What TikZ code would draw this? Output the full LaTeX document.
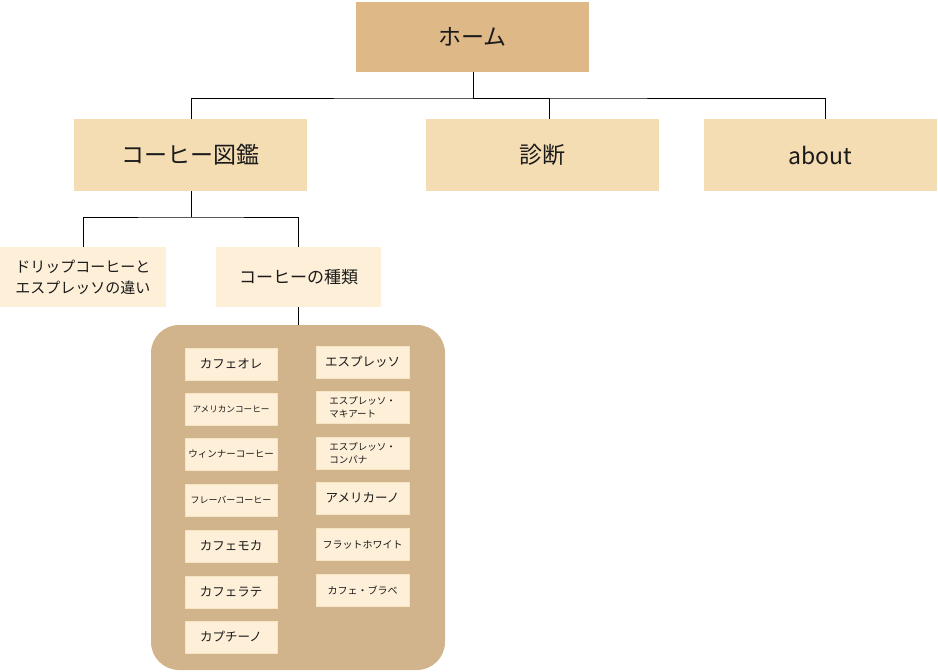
\documentclass[tikz,border=0pt]{standalone}
\usepackage{fontspec}
\setmainfont{Noto Sans CJK JP}
\definecolor{homec}{HTML}{DEB887}
\definecolor{lvtwo}{HTML}{F5DDB3}
\definecolor{lvthree}{HTML}{FDEFD8}
\definecolor{panelc}{HTML}{D2B48C}
\definecolor{txt}{HTML}{1A1A1A}
\newcommand{\fs}[1]{\fontsize{#1pt}{#1pt}\selectfont}
\begin{document}
\begin{tikzpicture}[x=1pt,y=-1pt,
  base/.style={rectangle, inner sep=0pt, outer sep=0pt, text=txt},
  homebox/.style={base, fill=homec, minimum width=233pt, minimum height=70pt, font=\fs{23}},
  topbox/.style={base, fill=lvtwo, minimum width=233pt, minimum height=72pt, font=\fs{23}},
  subbox/.style={base, fill=lvthree, minimum height=60pt},
  itembox/.style={base, fill=lvthree, draw=lvtwo!80, line width=0.6pt, minimum height=32pt},
  litem/.style={itembox, minimum width=92pt},
  ritem/.style={itembox, minimum width=93pt},
  conn/.style={draw=black, line width=0.9pt}
]
\useasboundingbox (0,0) rectangle (938,672);

\node[homebox] (home) at (472.5,37) {ホーム};
\node[topbox] (zukan) at (190.5,155) {コーヒー図鑑};
\node[topbox] (shindan) at (542.5,155) {診断};
\node[topbox] (about) at (820.5,155) {about};

\node[subbox, minimum width=166pt, align=left, font=\fontsize{15pt}{21pt}\selectfont] (drip) at (83,277) {ドリップコーヒーと\\エスプレッソの違い};
\node[subbox, minimum width=165pt, font=\fs{17}] (types) at (298.5,277) {コーヒーの種類};

\node[base, fill=panelc, rounded corners=28pt, minimum width=294pt, minimum height=345pt] (panel) at (298,497.5) {};

% left column
\node[litem, font=\fs{12.5}] (l1) at (231,364) {カフェオレ};
\node[litem, font=\fs{8.6}] (l2) at (231,409) {アメリカンコーヒー};
\node[litem, font=\fs{9.5}] (l3) at (231,454) {ウィンナーコーヒー};
\node[litem, font=\fs{9}] (l4) at (231,500) {フレーバーコーヒー};
\node[litem, font=\fs{12.5}] (l5) at (231,546) {カフェモカ};
\node[litem, font=\fs{12.5}] (l6) at (231,592) {カフェラテ};
\node[litem, font=\fs{12.5}] (l7) at (231,637) {カプチーノ};

% right column
\node[ritem, font=\fs{12.5}] (r1) at (362.5,362) {エスプレッソ};
\node[ritem, align=left, font=\fontsize{9.5pt}{12.5pt}\selectfont] (r2) at (362.5,407.5) {エスプレッソ・\\マキアート};
\node[ritem, align=left, font=\fontsize{9.5pt}{12.5pt}\selectfont] (r3) at (362.5,453) {エスプレッソ・\\コンパナ};
\node[ritem, font=\fs{12.5}] (r4) at (362.5,498) {アメリカーノ};
\node[ritem, font=\fs{10}] (r5) at (362.5,544.5) {フラットホワイト};
\node[ritem, font=\fs{10}] (r6) at (362.5,590.5) {カフェ・ブラベ};

% connectors
\coordinate (hj) at (473,98);
\coordinate (zj) at (191,217);
\draw[conn] ([xshift=0.5pt]home.south) -- (hj);
\draw[conn] ([xshift=0.5pt]zukan.north) |- (hj) -| ([xshift=4.5pt]about.north);
\draw[conn] (hj) -| ([xshift=6.5pt]shindan.north);
\draw[conn] ([xshift=0.5pt]zukan.south) -- (zj);
\draw[conn] (drip.north) |- (zj) -| ([xshift=-0.5pt]types.north);
\draw[conn] ([xshift=-0.5pt]types.south) -- (panel.north);
\end{tikzpicture}
\end{document}
